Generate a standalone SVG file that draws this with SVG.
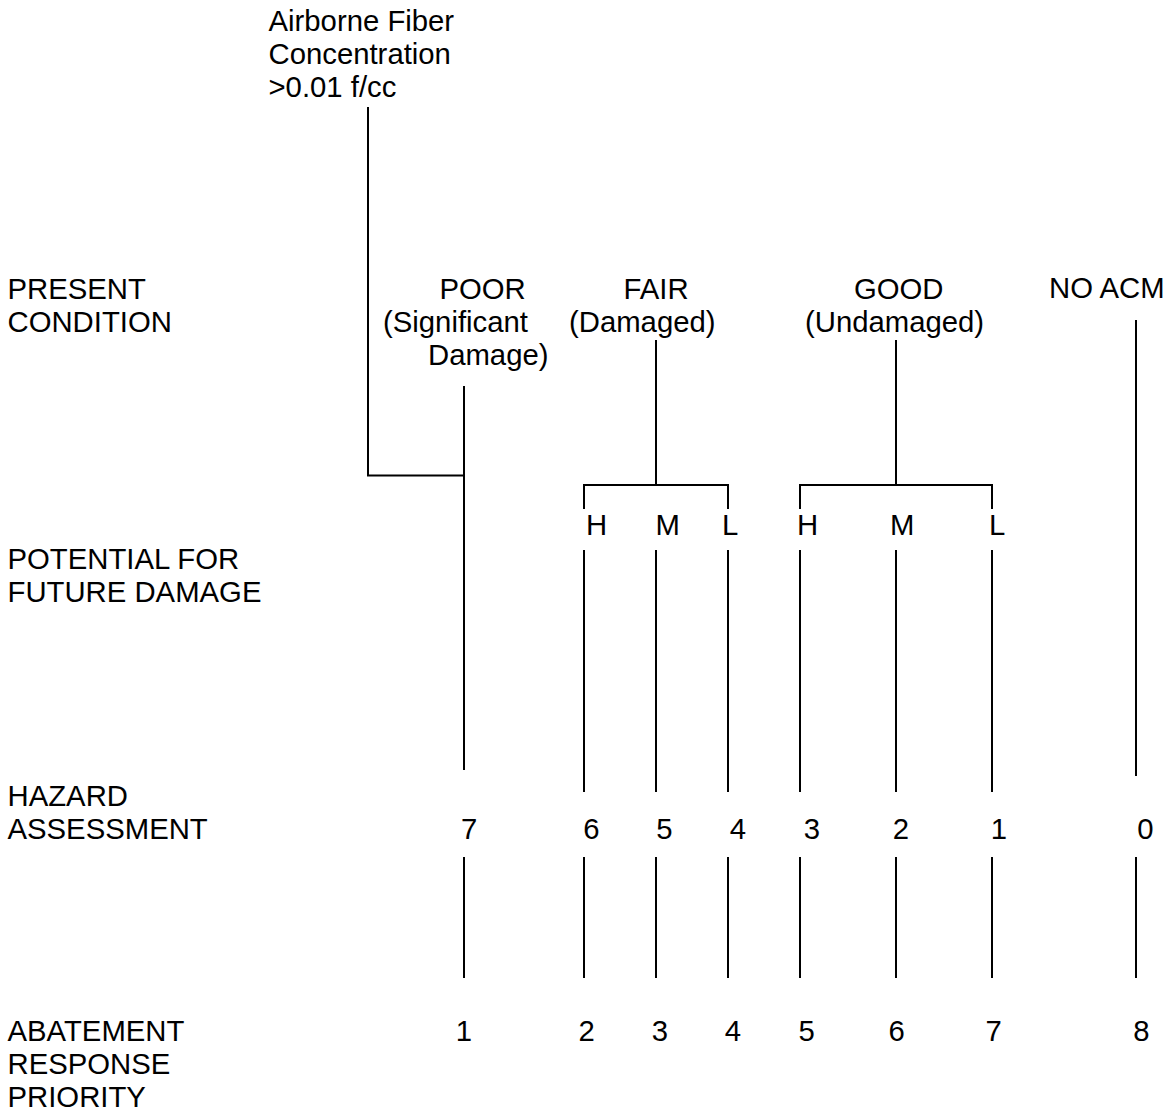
<svg xmlns="http://www.w3.org/2000/svg" width="1171" height="1114" viewBox="0 0 1171 1114">
<style>
text{font-family:"Liberation Sans",Arial,sans-serif;font-size:29.3px;fill:#000}
.n{text-anchor:middle}
.c line,.c polyline{stroke:#000;stroke-width:2;fill:none}
</style>
<rect width="1171" height="1114" fill="#fff"/>
<g id="row-labels">
<text x="7.5" y="299">PRESENT</text>
<text x="7.5" y="332">CONDITION</text>
<text x="7.5" y="569">POTENTIAL FOR</text>
<text x="7.5" y="602">FUTURE DAMAGE</text>
<text x="7.5" y="806">HAZARD</text>
<text x="7.5" y="839">ASSESSMENT</text>
<text x="7.5" y="1041">ABATEMENT</text>
<text x="7.5" y="1074">RESPONSE</text>
<text x="7.5" y="1107">PRIORITY</text>
</g>
<g id="airborne">
<text x="268.5" y="31">Airborne Fiber</text>
<text x="268.5" y="64">Concentration</text>
<text x="268.5" y="97">&gt;0.01 f/cc</text>
</g>
<g id="poor">
<text x="439.5" y="299">POOR</text>
<text x="383" y="332">(Significant</text>
<text x="428" y="365">Damage)</text>
</g>
<g id="fair">
<text x="623.5" y="299">FAIR</text>
<text x="569" y="332">(Damaged)</text>
</g>
<g id="good">
<text x="854" y="299">GOOD</text>
<text x="805" y="332">(Undamaged)</text>
</g>
<g id="no-acm">
<text x="1049" y="298">NO ACM</text>
</g>
<g id="fair-hml">
<text x="586" y="535">H</text>
<text x="655.5" y="535">M</text>
<text x="722" y="535">L</text>
</g>
<g id="good-hml">
<text x="797" y="535">H</text>
<text x="890" y="535">M</text>
<text x="989" y="535">L</text>
</g>
<g id="hazard-values">
<text class="n" x="469.2" y="839">7</text>
<text class="n" x="591.5" y="839">6</text>
<text class="n" x="664.5" y="839">5</text>
<text class="n" x="738" y="839">4</text>
<text class="n" x="812" y="839">3</text>
<text class="n" x="901" y="839">2</text>
<text class="n" x="999" y="839">1</text>
<text class="n" x="1145.5" y="839">0</text>
</g>
<g id="priority-values">
<text class="n" x="464" y="1041">1</text>
<text class="n" x="586.7" y="1041">2</text>
<text class="n" x="660" y="1041">3</text>
<text class="n" x="733" y="1041">4</text>
<text class="n" x="806.7" y="1041">5</text>
<text class="n" x="896.7" y="1041">6</text>
<text class="n" x="993.7" y="1041">7</text>
<text class="n" x="1141.5" y="1041">8</text>
</g>
<g id="connectors" class="c">
<polyline points="368,107 368,475.5 464,475.5"/>
<line x1="464" y1="386" x2="464" y2="770"/>
<line x1="656" y1="340" x2="656" y2="485"/>
<polyline points="584,509 584,485 728,485 728,509"/>
<line x1="896" y1="340" x2="896" y2="485"/>
<polyline points="800,509 800,485 992,485 992,509"/>
<line x1="1136" y1="320" x2="1136" y2="776"/>
<line x1="584" y1="550" x2="584" y2="792"/>
<line x1="656" y1="550" x2="656" y2="792"/>
<line x1="728" y1="550" x2="728" y2="792"/>
<line x1="800" y1="550" x2="800" y2="792"/>
<line x1="896" y1="550" x2="896" y2="792"/>
<line x1="992" y1="550" x2="992" y2="792"/>
<line x1="464" y1="857" x2="464" y2="978"/>
<line x1="584" y1="857" x2="584" y2="978"/>
<line x1="656" y1="857" x2="656" y2="978"/>
<line x1="728" y1="857" x2="728" y2="978"/>
<line x1="800" y1="857" x2="800" y2="978"/>
<line x1="896" y1="857" x2="896" y2="978"/>
<line x1="992" y1="857" x2="992" y2="978"/>
<line x1="1136" y1="857" x2="1136" y2="978"/>
</g>
</svg>
